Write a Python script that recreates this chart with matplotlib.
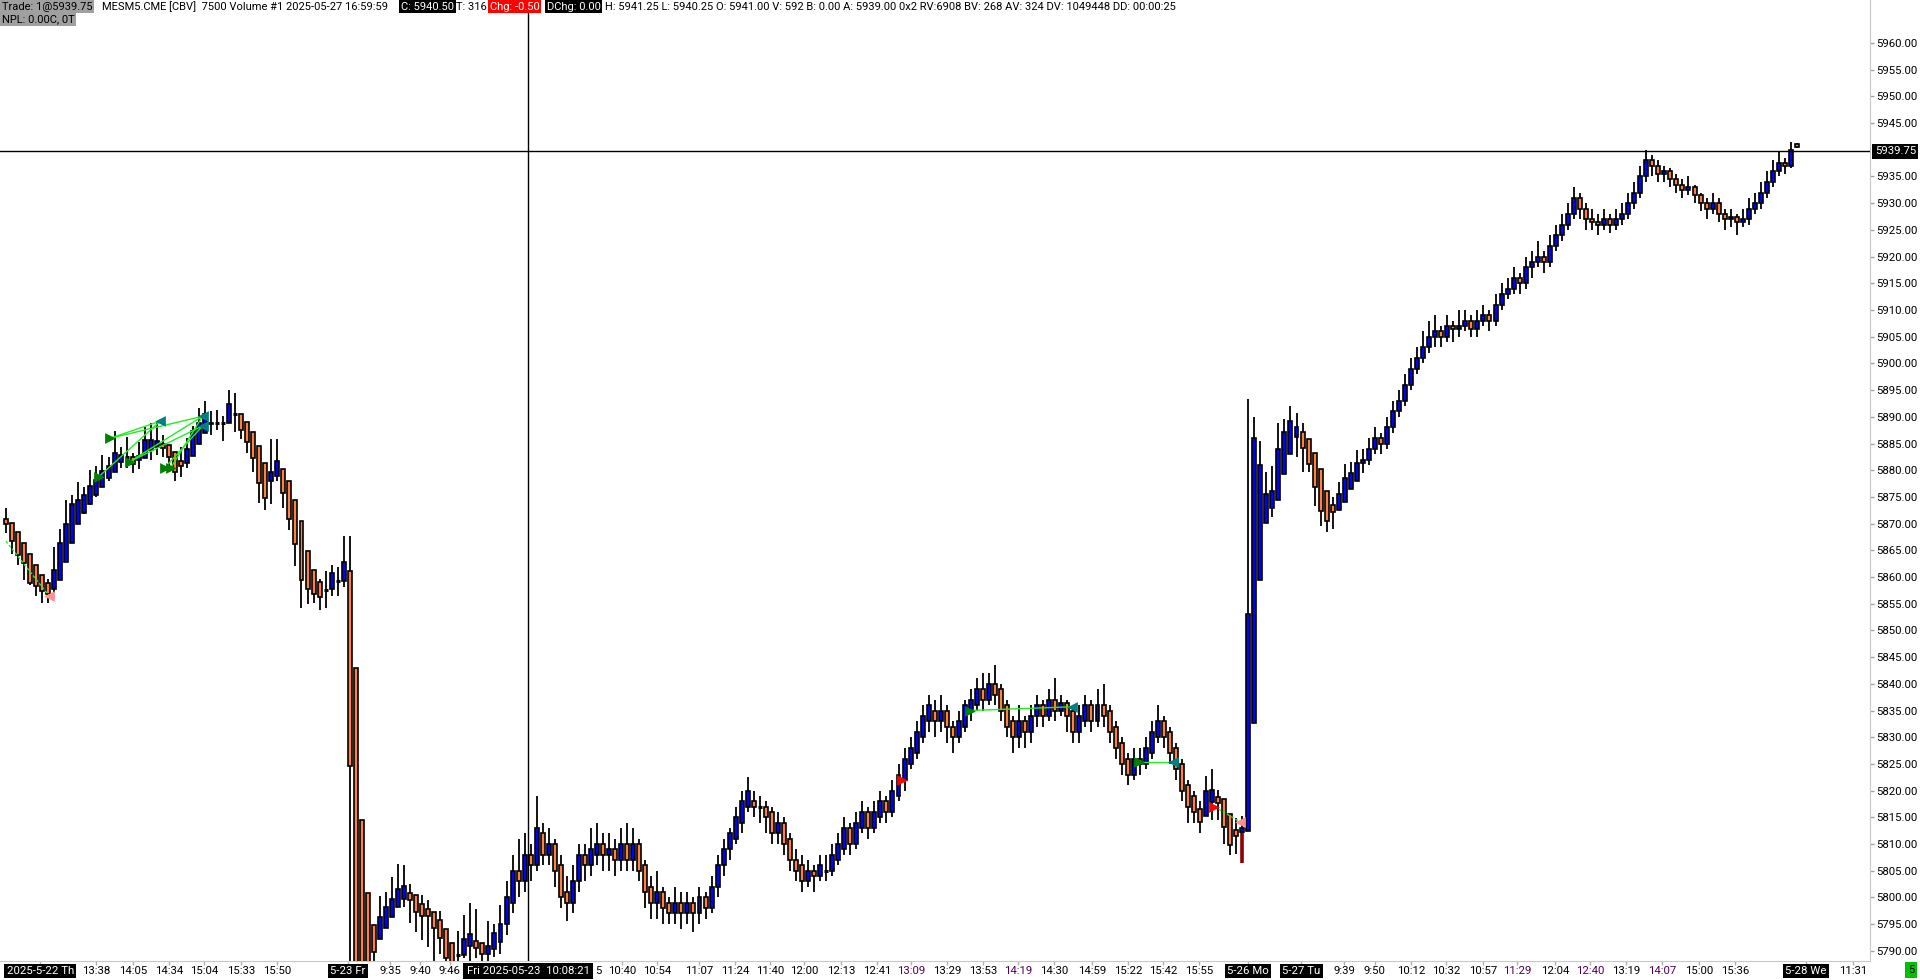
import matplotlib

matplotlib.use("Agg")

import matplotlib.pyplot as plt
import matplotlib.transforms as mtransforms

plt.rcParams["font.family"] = ["Roboto", "DejaVu Sans"]

# --- data: MESM5 7500-volume bars ----------------------------------------
opens = [
    # 5-22 afternoon
    5870.8, 5870.2, 5868.5, 5866.3, 5864.4, 5862.2, 5860.3, 5858.8, 5857.7, 5859.4,
    5862.9, 5866.3, 5870.0, 5872.0, 5873.7, 5875.3, 5876.8, 5878.5, 5879.6, 5881.5,
    5882.4, 5882.4, 5881.9, 5882.2, 5883.8, 5884.3, 5885.0, 5884.7, 5883.5, 5881.7,
    5881.3, 5882.7, 5885.0, 5886.9, 5888.6, 5888.9, 5888.8, 5888.8, 5890.6, 5890.6,
    5889.0, 5887.1, 5884.6, 5881.3, 5877.9, 5878.9, 5880.2, 5878.0, 5874.5, 5870.5,
    5864.8, 5861.3, 5859.0, 5857.6, 5857.8, 5859.2, 5859.2,
    # 5-23
    5861.1, 5842.9, 5814.5, 5800.9, 5794.8, 5792.3, 5794.2, 5796.3, 5798.2, 5799.8,
    5800.9, 5800.4, 5798.8, 5797.8, 5797.2, 5795.8, 5794.0, 5791.4, 5789.2, 5789.2,
    5790.9, 5791.9, 5791.4, 5789.5, 5790.3, 5791.7, 5795, 5799, 5805, 5803,
    5808, 5806, 5812, 5808, 5810, 5806, 5801, 5799, 5803, 5808,
    5806, 5808, 5810, 5808, 5809, 5807, 5810, 5807, 5810, 5806,
    5802, 5799, 5801, 5799, 5797, 5799, 5797, 5799, 5797, 5800,
    5798, 5802, 5806, 5809, 5811, 5814, 5817, 5818, 5817, 5817,
    5816, 5812, 5814, 5811, 5807, 5806, 5803, 5805, 5804, 5805,
    5805, 5807, 5809, 5813, 5810, 5813, 5816, 5813, 5815, 5818,
    5816, 5819, 5822, 5825, 5827, 5830, 5833, 5835, 5833, 5835,
    5832, 5830, 5832, 5835, 5836, 5839, 5837, 5840, 5839, 5836,
    5833, 5830, 5833, 5831, 5834, 5836, 5834, 5837, 5835, 5836.5,
    5835, 5831, 5833, 5836, 5833, 5836, 5835, 5832, 5829, 5826,
    5823, 5826, 5825, 5827, 5830, 5833, 5831, 5828, 5825, 5821,
    5819, 5816.5, 5815.3, 5817.9, 5818.9, 5818.4, 5815.7, 5812.7, 5812.2,
    # 5-26 / 5-27
    5812.5, 5832.7, 5859.4, 5870.2, 5872.9, 5874.5, 5879.2, 5883.1, 5886.3, 5887.1,
    5885.8, 5883.3, 5880.2, 5876.2, 5873.4, 5872.6, 5874.1, 5876.4, 5877.9, 5881.3,
    5882, 5884, 5886, 5885, 5888, 5891, 5893, 5896, 5899, 5901,
    5903, 5905, 5906, 5905, 5907, 5906.5, 5907, 5908, 5906.5, 5908,
    5909, 5908, 5911, 5913, 5914, 5916, 5915, 5918, 5919, 5920,
    5919, 5922, 5924, 5926, 5928, 5931, 5929, 5927, 5926.5, 5926,
    5927, 5926, 5927, 5928, 5930, 5932, 5935, 5938, 5937, 5935.5,
    5936, 5934.5, 5933.5, 5932.5, 5933, 5931.5, 5930, 5929, 5930, 5928,
    5927, 5927.5, 5926.5, 5927, 5929, 5930, 5932, 5934, 5936, 5937.5,
    5937, 5941.0,
]
highs = [
    5872.9, 5870.2, 5868.5, 5866.3, 5864.4, 5862.2, 5860.3, 5859.7, 5865.7, 5868.9,
    5874.4, 5875.4, 5877.8, 5876.9, 5880.0, 5880.8, 5882.8, 5882.4, 5887.4, 5884.4,
    5886.3, 5883.3, 5885.3, 5888.0, 5888.8, 5889.1, 5886.6, 5884.7, 5883.5, 5884.4,
    5886.0, 5888.3, 5891.6, 5893.0, 5891.0, 5891.2, 5890.1, 5895.0, 5894.5, 5890.6,
    5889.0, 5887.1, 5884.6, 5881.3, 5885.9, 5885.9, 5880.2, 5878.0, 5874.5, 5870.5,
    5864.8, 5861.3, 5859.6, 5861.1, 5862.3, 5861.8, 5867.6,
    5867.6, 5842.9, 5814.5, 5800.9, 5794.8, 5800.2, 5801.1, 5803.9, 5806.2, 5806.1,
    5802.6, 5800.4, 5800.4, 5799.5, 5797.2, 5797.5, 5794.0, 5791.4, 5793.8, 5796.7,
    5798.9, 5797.9, 5791.4, 5795.6, 5795.0, 5798.6, 5803, 5808, 5811, 5812,
    5810, 5819, 5814, 5813, 5811, 5808, 5804, 5806, 5810, 5810,
    5813, 5814, 5812, 5812, 5811, 5813, 5814, 5813, 5811, 5807,
    5804, 5805, 5802, 5800, 5802, 5801, 5801, 5800, 5802, 5801,
    5804, 5808, 5811, 5813, 5817, 5820, 5822.5, 5820, 5819, 5818,
    5817, 5816, 5815, 5812, 5809, 5808, 5807, 5806, 5808, 5808,
    5810, 5812, 5815, 5814, 5816, 5818, 5817, 5818, 5820, 5819,
    5822, 5825, 5828, 5830, 5833, 5836, 5838, 5837, 5838, 5836,
    5833, 5835, 5837, 5839, 5841, 5842, 5842, 5843.5, 5840, 5837,
    5834, 5836, 5834, 5836, 5838, 5837, 5839, 5841, 5838, 5837,
    5836, 5836, 5838, 5837, 5839, 5840, 5836, 5833, 5830, 5827,
    5828, 5828, 5830, 5833, 5836, 5834, 5832, 5829, 5826, 5822,
    5820, 5818, 5822.7, 5824.1, 5820.2, 5818.4, 5815.7, 5814.9, 5815.2,
    5893.3, 5889.9, 5885.4, 5879.6, 5880.8, 5888.8, 5889.6, 5892.1, 5890.7, 5888.8,
    5885.8, 5883.3, 5880.2, 5876.2, 5875.0, 5877.8, 5881.1, 5881.6, 5883.8, 5884,
    5886, 5888, 5887, 5890, 5893, 5895, 5898, 5901, 5903, 5906,
    5908, 5909, 5907, 5909, 5908, 5910, 5910, 5909, 5910, 5911,
    5910, 5913, 5915, 5916, 5918, 5917, 5920, 5921, 5923, 5921,
    5924, 5926, 5928, 5930, 5933, 5932, 5930, 5929, 5928, 5929,
    5928, 5929, 5930, 5932, 5934, 5937, 5940, 5939, 5938, 5937,
    5936.5, 5935.5, 5934.5, 5935, 5933.5, 5932, 5931, 5932, 5931, 5929,
    5929, 5928, 5929, 5931, 5932, 5934, 5936, 5938, 5939.5, 5938.5,
    5941.5, 5941.25,
]
lows = [
    5868.3, 5864.4, 5862.2, 5859.4, 5858.5, 5856.4, 5855.1, 5855.1, 5857.0, 5859.4,
    5862.9, 5866.3, 5870.0, 5871.8, 5873.4, 5875.0, 5876.8, 5877.9, 5879.6, 5880.4,
    5880.4, 5879.4, 5880.2, 5882.2, 5881.9, 5882.9, 5882.5, 5880.5, 5877.9, 5878.8,
    5880.4, 5882.7, 5885.0, 5886.9, 5886.6, 5887.5, 5885.5, 5888.8, 5887.2, 5885.9,
    5883.3, 5879.6, 5873.8, 5872.6, 5873.7, 5877.9, 5872.9, 5868.8, 5862.0, 5854.2,
    5854.9, 5855.2, 5853.8, 5854.2, 5856.4, 5856.4, 5858.1,
    5786.0, 5786.0, 5786.0, 5786.0, 5786.0, 5792.3, 5794.2, 5796.3, 5798.2, 5798.3,
    5795.2, 5793.5, 5792.1, 5790.8, 5787.0, 5789.5, 5787.0, 5787.0, 5787.0, 5788.6,
    5787.0, 5788.6, 5787.5, 5787.5, 5788.8, 5789.5, 5793, 5797, 5800, 5801,
    5803, 5805, 5806, 5806, 5802, 5798, 5795.5, 5797, 5801, 5803,
    5804, 5806, 5805, 5805, 5804, 5805, 5805, 5805, 5803, 5798,
    5796, 5796, 5795, 5795, 5795, 5794, 5795, 5793.5, 5795, 5796,
    5797, 5800, 5804, 5807, 5810, 5812, 5816, 5815, 5814, 5812,
    5810, 5810, 5808, 5805, 5803, 5801, 5802, 5801, 5803, 5803,
    5804, 5806, 5808, 5808, 5809, 5812, 5811, 5812, 5814, 5814,
    5815, 5818, 5820, 5824, 5826, 5829, 5831, 5830, 5831, 5829,
    5827, 5829, 5831, 5833, 5835, 5835, 5836, 5836, 5833, 5830,
    5827, 5828, 5828, 5829, 5832, 5832, 5833, 5833, 5834, 5831,
    5829, 5829, 5832, 5831, 5832, 5832, 5829, 5826, 5823, 5821,
    5822, 5823, 5824, 5826, 5829, 5828, 5825, 5822, 5818, 5814,
    5814, 5812, 5815.3, 5814.5, 5814.5, 5810.1, 5807.9, 5808.2, 5806.5,
    5812.5, 5832.7, 5859.4, 5870.2, 5871.3, 5874.5, 5879.2, 5883.1, 5882.4, 5879.6,
    5879.6, 5873.3, 5869.6, 5868.4, 5868.9, 5872.6, 5874.1, 5876.4, 5877.9, 5879.5,
    5881, 5883, 5883, 5884, 5887, 5890, 5892, 5895, 5898, 5900,
    5902, 5903, 5903, 5904, 5904, 5905, 5906, 5905, 5905, 5907,
    5906, 5907, 5910, 5912, 5913, 5913, 5914, 5916, 5918, 5917,
    5918, 5921, 5923, 5925, 5927, 5927, 5925, 5925, 5924, 5925,
    5924.5, 5925, 5926, 5927, 5929, 5931, 5934, 5935, 5934, 5934,
    5933, 5932, 5931, 5931.5, 5930, 5928.5, 5927, 5928, 5926.5, 5925,
    5925.5, 5924, 5925.5, 5926, 5928, 5929, 5931, 5933, 5935, 5935.5,
    5936.5, 5940.25,
]
closes = [
    5869.9, 5866.7, 5864.1, 5862.6, 5858.8, 5858.3, 5857.4, 5856.8, 5861.3, 5866.3,
    5869.9, 5873.7, 5874.4, 5875.4, 5877.0, 5878.2, 5879.9, 5880.7, 5883.2, 5882.9,
    5882.4, 5881.1, 5882.7, 5885.7, 5885.7, 5885.4, 5884.1, 5882.5, 5879.7, 5880.8,
    5884.0, 5887.4, 5888.8, 5890.5, 5888.9, 5888.9, 5888.8, 5892.4, 5890.6, 5887.5,
    5885.2, 5882.3, 5877.7, 5874.8, 5879.6, 5881.7, 5875.7, 5870.9, 5866.1, 5859.5,
    5857.8, 5856.8, 5856.3, 5857.6, 5860.7, 5859.2, 5862.9,
    5824.7, 5785.0, 5786.0, 5786.0, 5789.8, 5796.3, 5798.3, 5799.8, 5801.5, 5802.1,
    5799.6, 5797.2, 5796.6, 5796.6, 5794.2, 5792.5, 5788.6, 5786.0, 5789.2, 5792.3,
    5793.1, 5790.6, 5789.5, 5790.9, 5793.3, 5795.1, 5800, 5805, 5803, 5808,
    5806, 5813, 5808, 5810, 5805, 5800, 5799, 5803, 5808, 5806,
    5809, 5810, 5808, 5809, 5807, 5810, 5807, 5810, 5805, 5801,
    5799, 5801, 5798, 5797, 5799, 5797, 5799, 5797, 5800, 5798,
    5802, 5806, 5809, 5812, 5815, 5818, 5820, 5817, 5817, 5815,
    5812, 5814, 5810, 5807, 5805, 5803, 5805, 5804, 5806, 5805,
    5808, 5810, 5813, 5810, 5814, 5816, 5813, 5816, 5818, 5816,
    5820, 5823, 5826, 5828, 5831, 5834, 5836, 5833, 5835, 5832,
    5830, 5833, 5836, 5837, 5839, 5837, 5840, 5838, 5835, 5832,
    5830, 5833, 5831, 5834, 5836, 5834, 5837, 5835, 5836.5, 5834,
    5831, 5834, 5836, 5833, 5836, 5834, 5831, 5828, 5825, 5823,
    5826, 5825, 5828, 5831, 5833, 5830, 5827, 5824, 5820, 5817,
    5816, 5814.2, 5820.0, 5820.2, 5817.6, 5813.1, 5809.9, 5811.5, 5813.0,
    5853.1, 5886.1, 5881.0, 5875.5, 5876.1, 5884.0, 5887.1, 5889.3, 5888.0, 5884.2,
    5881.1, 5876.8, 5872.4, 5870.4, 5872.1, 5875.5, 5878.6, 5879.4, 5881.3, 5882,
    5884, 5886, 5885, 5888, 5891, 5893, 5896, 5899, 5901, 5903,
    5905, 5906, 5905, 5907, 5906.5, 5907, 5908, 5906.5, 5908, 5909,
    5908, 5911, 5913, 5914, 5916, 5915, 5918, 5919, 5920, 5919,
    5922, 5924, 5926, 5928, 5931, 5929, 5927, 5926.5, 5926, 5927,
    5926, 5927, 5928, 5930, 5932, 5935, 5938, 5937, 5935.5, 5936,
    5934.5, 5933.5, 5932.5, 5933, 5931.5, 5930, 5929, 5930, 5928, 5927,
    5927.5, 5926.5, 5927, 5929, 5930, 5932, 5934, 5936, 5937.5, 5937,
    5940, 5940.5,
]

# bar whose lower tail is painted dark red (stop marker)
red_tail_bar = 205

# trade markers (bar position, price)
entry_x = [15.4, 17.3, 20.5, 26.3, 27.3, 159.8, 187.8]
entry_y = [5878.8, 5886.0, 5881.6, 5880.4, 5880.4, 5835.0, 5825.4]
exit_x = [25.6, 32.6, 32.6, 176.7, 193.5]
exit_y = [5889.2, 5890.1, 5888.3, 5835.7, 5825.4]
links = [(1, 0), (1, 1), (0, 0), (2, 1), (2, 2), (3, 2), (4, 1), (5, 3), (6, 4)]
short_x = [148.5, 200.4]
short_y = [5822.0, 5817.0]
cover_x = [7.2, 204.7]
cover_y = [5856.4, 5814.1]
dotted_from = [(0.0, 5866.7), (200.4, 5817.0)]

# x-axis labels (bar position, text); "5" is the tail of a label hidden by the cursor box
xtick_pos = [5.7, 14.9, 21.1, 27.0, 32.8, 39.0, 44.9, 56.7, 63.7, 68.7, 73.6, 98.2,
             102.2, 108.0, 114.9, 120.9, 126.7, 132.3, 138.5, 144.4, 150.1, 156.1, 162.0,
             167.8, 173.8, 180.1, 186.1, 191.9, 197.8, 206.0, 214.8, 221.9, 227.0, 233.0,
             238.8, 245.0, 250.6, 256.9, 262.7, 268.7, 274.6, 280.8, 286.7, 298.5, 306.3]
xtick_text = ["2025-5-22 Th", "13:38", "14:05", "14:34", "15:04", "15:33", "15:50",
              "5-23 Fr", "9:35", "9:40", "9:46", "5", "10:40", "10:54", "11:07", "11:24",
              "11:40", "12:00", "12:13", "12:41", "13:09", "13:29", "13:53", "14:19", "14:30",
              "14:59", "15:22", "15:42", "15:55", "5-26 Mo", "5-27 Tu", "9:39", "9:50",
              "10:12", "10:32", "10:57", "11:29", "12:04", "12:40", "13:19", "14:07",
              "15:00", "15:36", "5-28 We", "11:31"]
day_labels = {"2025-5-22 Th", "5-23 Fr", "5-26 Mo", "5-27 Tu", "5-28 We"}
purple_labels = {"13:09", "14:19", "11:29", "12:40", "14:07"}

y_ticks = [5790 + 5 * k for k in range(35) if 5790 + 5 * k != 5940]
last_price = 5939.75
cursor_bar = 86.6
cursor_label = "Fri 2025-05-23  10:08:21"

# header segments: text, box colour, text colour, left edge (px)
header_1 = [
    ("Trade: 1@5939.75", "#a0a0a0", "black", 2),
    ("MESM5.CME [CBV]  7500 Volume #1 2025-05-27 16:59:59", None, "black", 102),
    ("C: 5940.50", "black", "white", 401),
    ("T: 316", None, "black", 456),
    ("Chg: -0.50", "#ff0000", "white", 490),
    ("DChg: 0.00", "black", "white", 547),
    ("H: 5941.25 L: 5940.25 O: 5941.00 V: 592 B: 0.00 A: 5939.00 0x2 RV:6908 BV: 268 "
     "AV: 324 DV: 1049448 DD: 00:00:25", None, "black", 605),
]
header_2 = [("NPL: 0.00C, 0T", "#a0a0a0", "black", 2)]

UP = "#0000ff"
DOWN = "#ff8040"
FS = 8.2

W, H = 1920, 980
fig = plt.figure(figsize=(W / 100, H / 100), dpi=100)
fig.patch.set_facecolor("white")
ax = fig.add_axes([0, 19 / H, 1870 / W, 961 / H])
ax.set_xlim(-0.995, 309.1)
ax.set_ylim(5788.1, 5968.05)

bw = 0.66
xs = list(range(len(opens)))
ax.vlines(xs, lows, highs, color="black", lw=1.3, zorder=2)
ax.vlines(red_tail_bar, lows[red_tail_bar], min(opens[red_tail_bar], closes[red_tail_bar]),
          color="#8b0000", lw=2.6, zorder=2.5)
body_x = [i for i in xs if opens[i] != closes[i]]
ax.bar(body_x, [abs(closes[i] - opens[i]) for i in body_x],
       bottom=[min(opens[i], closes[i]) for i in body_x], width=bw,
       color=[UP if closes[i] > opens[i] else DOWN for i in body_x],
       edgecolor="black", linewidth=1.2, zorder=3)
doji_x = [i for i in xs if opens[i] == closes[i]]
ax.hlines([closes[i] for i in doji_x], [i - bw / 2 for i in doji_x],
          [i + bw / 2 for i in doji_x], color="black", lw=2.2, zorder=3)

for a, b in links:
    ax.plot([entry_x[a], exit_x[b]], [entry_y[a], exit_y[b]], color="#22ee22", lw=1, zorder=4)
for (x0, y0), x1, y1 in zip(dotted_from, cover_x, cover_y):
    ax.plot([x0, x1], [y0, y1], color="#22ee22", lw=1, ls=(0, (2, 1.5)), zorder=4)
ax.scatter(entry_x, entry_y, marker=">", s=60, color="#008000", zorder=5, linewidths=0)
ax.scatter(exit_x, exit_y, marker="<", s=60, color="#008080", zorder=5, linewidths=0)
ax.scatter(short_x, short_y, marker=">", s=60, color="#ff0000", zorder=5, linewidths=0)
ax.scatter(cover_x, cover_y, marker="<", s=60, color="#ff9090", zorder=5, linewidths=0)

# crosshair
ax.axhline(last_price, color="black", lw=1, zorder=6)
ax.axvline(cursor_bar, color="black", lw=1, zorder=6)

# axes styling
for s in ["top", "left"]:
    ax.spines[s].set_visible(False)
ax.spines["right"].set_color("#c8c8c8")
ax.spines["bottom"].set_color("#c8c8c8")
ax.yaxis.tick_right()
ax.set_yticks(y_ticks)
ax.set_yticklabels([f"{v:.2f}" for v in y_ticks])
ax.tick_params(axis="y", length=3, width=1, color="#a0a0a0", pad=1.5, labelsize=FS)
ax.set_xticks([p for p, t in zip(xtick_pos, xtick_text) if t != "5"])
ax.set_xticklabels([])
ax.tick_params(axis="x", length=3, width=1, color="#b0b0b0")

trans = mtransforms.blended_transform_factory(ax.transAxes, ax.transData)
ax.text(1.0025, last_price, f"{last_price:.2f}", transform=trans, ha="left", va="center",
        fontsize=FS, color="white", zorder=7,
        bbox=dict(boxstyle="square,pad=0.22", fc="black", ec="none"))

xtrans = mtransforms.blended_transform_factory(ax.transData, fig.transFigure)
ty = 1 - 971 / H
for p, t in zip(xtick_pos, xtick_text):
    if t in day_labels:
        ax.text(p, ty, t, transform=xtrans, ha="center", va="center", fontsize=FS,
                color="white", clip_on=False,
                bbox=dict(boxstyle="square,pad=0.2", fc="black", ec="none"))
    else:
        ax.text(p, ty, t, transform=xtrans, ha="center", va="center", fontsize=FS,
                color="#500050" if t in purple_labels else "black", clip_on=False)
ax.text(cursor_bar, ty, cursor_label, transform=xtrans, ha="center", va="center",
        fontsize=FS, color="white", zorder=8, clip_on=False,
        bbox=dict(boxstyle="square,pad=0.3", fc="black", ec="none"))

fig.text(1911 / W, 1 - 970 / H, "5", ha="center", va="center", fontsize=FS,
         bbox=dict(boxstyle="square,pad=0.25", fc="#00c000", ec="none"))

# header: size the font so the long quote line spans what it does in the chart
renderer = fig.canvas.get_renderer()
probe = fig.text(0, 0, header_1[-1][0], fontsize=FS)
hfs = FS * 572 / probe.get_window_extent(renderer).width
probe.remove()


def head_row(y_px, items):
    for s, fc, color, x in items:
        kw = {}
        if fc:
            kw["bbox"] = dict(boxstyle="square,pad=0.14", fc=fc, ec="none")
        fig.text(x / W, 1 - y_px / H, s, ha="left", va="center", fontsize=hfs,
                 color=color, **kw)


head_row(6.5, header_1)
head_row(19.5, header_2)

fig.savefig("out.png", dpi=100)
